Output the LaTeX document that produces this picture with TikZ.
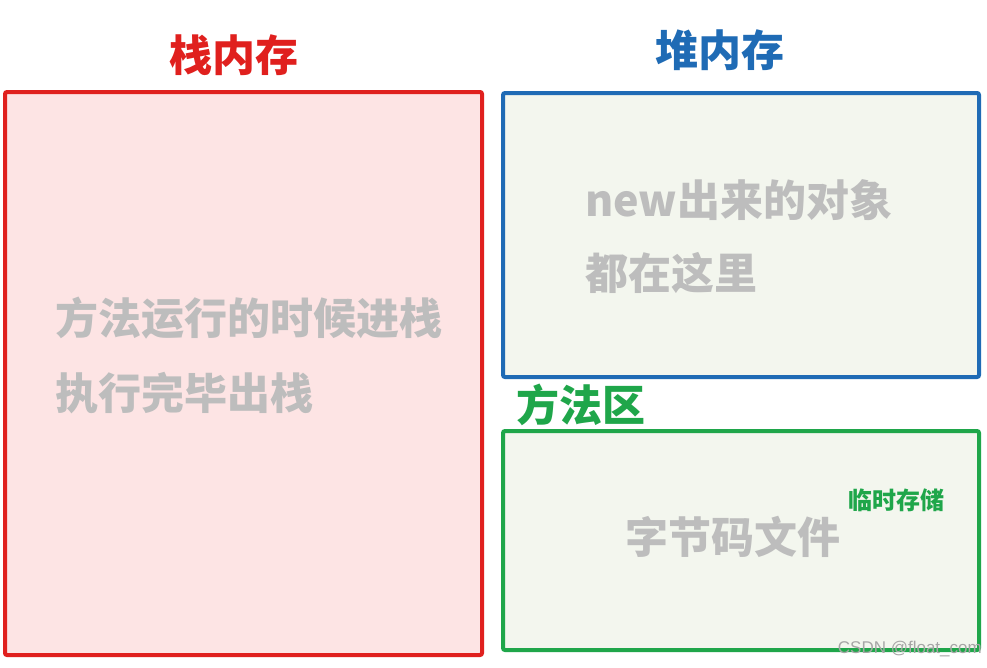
\documentclass[tikz,border=0pt]{standalone}
\usepackage{fontspec}
\newfontfamily\cjk{Noto Sans CJK SC}
\newfontfamily\wm{Liberation Sans}
\definecolor{stackred}{HTML}{E0201E}
\definecolor{stackfill}{HTML}{FDE4E4}
\definecolor{heapblue}{HTML}{1F6BB5}
\definecolor{boxfill}{HTML}{F3F6EE}
\definecolor{methgreen}{HTML}{1FA64A}
\definecolor{txtgray}{HTML}{BDBDBD}
\tikzset{
  region/.style={line width=4pt, rounded corners=2pt},
  title/.style={font=\cjk\bfseries\fontsize{43}{50}\selectfont, inner sep=0pt},
  body/.style={font=\cjk\bfseries\fontsize{43}{50}\selectfont, text=txtgray, inner sep=0pt, anchor=west},
}
\begin{document}
\begin{tikzpicture}[x=1pt,y=-1pt]
\useasboundingbox[fill=white] (0,0) rectangle (987,667);
\draw[region, draw=stackred, fill=stackfill] (5,92) rectangle (482,655);
\draw[region, draw=heapblue, fill=boxfill] (503,93) rectangle (979,377);
\draw[region, draw=methgreen, fill=boxfill] (503,431) rectangle (979,650);
\node[title, text=stackred] (t1) at (234,55) {栈内存};
\node[title, text=heapblue] (t2) at (720,50) {堆内存};
\node[title, text=methgreen] (t3) at (581,405) {方法区};
\node[body] (s1) at (55,318) {方法运行的时候进栈};
\node[body] (s2) at (55,393) {执行完毕出栈};
\node[body] (h1) at (585,200) {new出来的对象};
\node[body] (h2) at (585,273) {都在这里};
\node[body] (m1) at (625,537) {字节码文件};
\node[font=\cjk\bfseries\fontsize{24}{28}\selectfont, text=methgreen, inner sep=0pt] (m2) at (896,500) {临时存储};
\node[font=\wm\fontsize{17}{19}\selectfont, text=gray!70, inner sep=0pt, anchor=east] (w) at (982,649) {CSDN @float\_com};
\end{tikzpicture}
\end{document}
